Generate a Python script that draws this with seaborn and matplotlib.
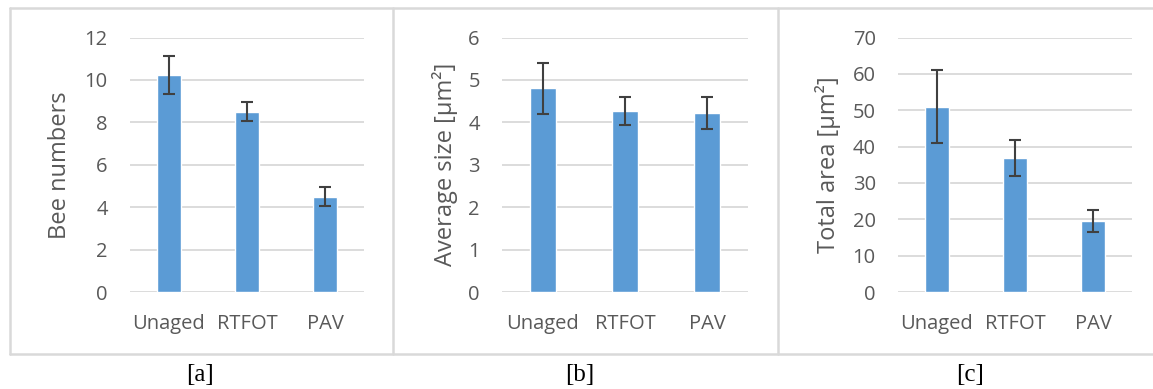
import numpy as np
import pandas as pd
import seaborn as sns
import matplotlib.pyplot as plt
from matplotlib.lines import Line2D

# data
categories = ['Unaged', 'RTFOT', 'PAV']

bee_numbers = [10.25, 8.5, 4.5]
bee_err = [0.9, 0.45, 0.45]

avg_size = [4.8, 4.27, 4.22]
avg_err = [0.6, 0.33, 0.38]

total_area = [51.0, 36.8, 19.5]
total_err = [10.0, 4.9, 3.1]

panels = [
    ('Bee numbers', bee_numbers, bee_err, 12, 2, '[a]'),
    ('Average size [µm²]', avg_size, avg_err, 6, 1, '[b]'),
    ('Total area [µm²]', total_area, total_err, 70, 10, '[c]'),
]

sns.set_theme(style='white')
plt.rcParams['font.family'] = ['Open Sans', 'DejaVu Sans']

W, H = 1153, 389
fig = plt.figure(figsize=(W / 100, H / 100), dpi=100)

# axes boxes in pixels: left, width
boxes = [(130, 234), (502, 246), (898, 234)]
ylab_x = [60, 445, 828]
caption_x = [200, 580, 970]
top_px, bot_px = 37.5, 292

bar_color = '#5B9BD5'
text_color = '#595959'
grid_color = '#d9d9d9'

for (ylabel, vals, errs, ymax, step, cap), (lpx, wpx), yl, cx in zip(panels, boxes, ylab_x, caption_x):
    ax = fig.add_axes([lpx / W, 1 - bot_px / H, wpx / W, (bot_px - top_px) / H])
    df = pd.DataFrame({'group': categories, 'value': vals})
    sns.barplot(data=df, x='group', y='value', color=bar_color, saturation=1,
                width=0.31, errorbar=None, ax=ax, zorder=3)
    ax.errorbar(np.arange(len(categories)), vals, yerr=errs, fmt='none',
                ecolor='#404040', elinewidth=1.5, capsize=4.3, capthick=1.5, zorder=4)
    ax.set_xlim(-0.5, len(categories) - 0.5)
    ax.set_ylim(0, ymax)
    ax.set_yticks(np.arange(0, ymax + step / 2, step))
    ax.yaxis.grid(True, color=grid_color, lw=1.3, zorder=0)
    ax.set_axisbelow(True)
    for s in ax.spines.values():
        s.set_visible(False)
    ax.tick_params(axis='both', length=0, labelsize=14.5, colors=text_color)
    ax.tick_params(axis='y', pad=16)
    ax.tick_params(axis='x', pad=16)
    ax.set_xlabel('')
    ax.set_ylabel(ylabel, fontsize=17, color=text_color, va='center')
    ax.yaxis.set_label_coords((yl - lpx) / wpx, 0.5)
    fig.text(cx / W, 1 - 375 / H, cap, ha='center', va='center',
             fontsize=18, family='Liberation Serif', color='black')

# panel frames
frame_kw = dict(color='#d9d9d9', lw=1.8, transform=fig.transFigure)
fy0, fy1 = 1 - 354 / H, 1 - 8 / H
fig.add_artist(Line2D([10 / W, 1.0], [fy1, fy1], **frame_kw))
fig.add_artist(Line2D([10 / W, 1.0], [fy0, fy0], **frame_kw))
for xp in [10, 393, 778]:
    fig.add_artist(Line2D([xp / W, xp / W], [fy0, fy1], **frame_kw))

fig.savefig('out.png', dpi=100)
